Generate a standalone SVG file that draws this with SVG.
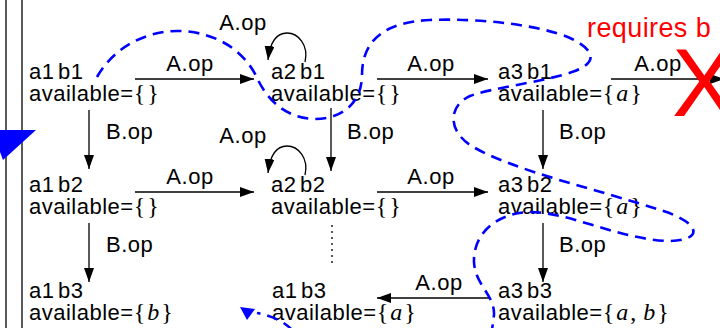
<svg xmlns="http://www.w3.org/2000/svg" width="720" height="328" viewBox="0 0 720 328">
<style>
.t{font-family:"Liberation Sans",Arial,sans-serif;font-size:22px;letter-spacing:0.5px;word-spacing:-3px;fill:#000}
.m{font-family:"Liberation Serif","Times New Roman",serif;font-size:24px;letter-spacing:2px}
.i{font-style:italic}
.e{stroke:#000;stroke-width:1.3;fill:none}
.dash{stroke:#0000ff;stroke-width:2.6;fill:none;stroke-dasharray:11,7}
</style>
<defs>
<marker id="ah" markerUnits="userSpaceOnUse" markerWidth="15" markerHeight="11" refX="14" refY="5" orient="auto">
<path d="M0,0 L14,5 L0,10 z" fill="#000"/>
</marker>
</defs>
<rect width="720" height="328" fill="#fff"/>
<line x1="6" y1="0" x2="6" y2="328" class="e"/>
<line x1="22" y1="0" x2="22" y2="328" class="e"/>

<g id="connectors">
<line x1="135" y1="79" x2="254" y2="79" class="e" marker-end="url(#ah)"/>
<text class="t" x="190" y="71" text-anchor="middle">A.op</text>
<line x1="377" y1="79" x2="488" y2="79" class="e" marker-end="url(#ah)"/>
<text class="t" x="431" y="71" text-anchor="middle">A.op</text>
<line x1="611" y1="79" x2="724" y2="79" class="e" marker-end="url(#ah)"/>
<text class="t" x="658" y="71" text-anchor="middle">A.op</text>
<path d="M305,62 C309,45 298,33 287,33 C276,33 270,42 268,60" class="e" marker-end="url(#ah)"/>
<text class="t" x="243" y="30" text-anchor="middle">A.op</text>
<line x1="89" y1="110" x2="89" y2="169" class="e" marker-end="url(#ah)"/>
<text class="t" x="106" y="139">B.op</text>
<line x1="331" y1="108" x2="331" y2="171" class="e" marker-end="url(#ah)"/>
<text class="t" x="347" y="139">B.op</text>
<line x1="543" y1="110" x2="543" y2="169" class="e" marker-end="url(#ah)"/>
<text class="t" x="559" y="139">B.op</text>
<line x1="135" y1="192" x2="254" y2="192" class="e" marker-end="url(#ah)"/>
<text class="t" x="190" y="184" text-anchor="middle">A.op</text>
<line x1="377" y1="192" x2="488" y2="192" class="e" marker-end="url(#ah)"/>
<text class="t" x="431" y="184" text-anchor="middle">A.op</text>
<path d="M305,175 C309,158 298,146 287,146 C276,146 270,155 268,173" class="e" marker-end="url(#ah)"/>
<text class="t" x="243" y="143" text-anchor="middle">A.op</text>
<line x1="89" y1="223" x2="89" y2="282" class="e" marker-end="url(#ah)"/>
<text class="t" x="106" y="252">B.op</text>
<line x1="332" y1="225" x2="332" y2="267" stroke="#000" stroke-width="1.3" stroke-dasharray="2,4"/>
<line x1="543" y1="223" x2="543" y2="282" class="e" marker-end="url(#ah)"/>
<text class="t" x="559" y="252">B.op</text>
<line x1="490" y1="298" x2="377" y2="298" class="e" marker-end="url(#ah)"/>
<text class="t" x="439" y="290" text-anchor="middle">A.op</text>
</g>

<g id="n_a1b1"><text class="t" x="29" y="79">a1 b1</text><text class="t" x="29" y="101">available=<tspan class="m">{}</tspan></text></g>
<g id="n_a2b1"><text class="t" x="271" y="79">a2 b1</text><text class="t" x="271" y="101">available=<tspan class="m">{}</tspan></text></g>
<g id="n_a3b1"><text class="t" x="498" y="79">a3 b1</text><text class="t" x="498" y="101">available=<tspan class="m">{<tspan class="i">a</tspan>}</tspan></text></g>
<g id="n_a1b2"><text class="t" x="29" y="192">a1 b2</text><text class="t" x="29" y="214">available=<tspan class="m">{}</tspan></text></g>
<g id="n_a2b2"><text class="t" x="271" y="192">a2 b2</text><text class="t" x="271" y="214">available=<tspan class="m">{}</tspan></text></g>
<g id="n_a3b2"><text class="t" x="498" y="192">a3 b2</text><text class="t" x="498" y="214">available=<tspan class="m">{<tspan class="i">a</tspan>}</tspan></text></g>
<g id="n_a1b3"><text class="t" x="29" y="298">a1 b3</text><text class="t" x="29" y="320">available=<tspan class="m">{<tspan class="i">b</tspan>}</tspan></text></g>
<g id="n_a1b3_2"><text class="t" x="272" y="298">a1 b3</text><text class="t" x="272" y="320">available=<tspan class="m">{<tspan class="i">a</tspan>}</tspan></text></g>
<g id="n_a3b3"><text class="t" x="498" y="298">a3 b3</text><text class="t" x="498" y="320">available=<tspan class="m">{<tspan class="i">a</tspan>, <tspan class="i">b</tspan>}</tspan></text></g>

<g id="blocked">
<text x="587" y="37" font-family="Liberation Sans,Arial,sans-serif" font-size="27" letter-spacing="0.4" fill="#ff0000">requires b</text>
<text x="672" y="116" font-family="Liberation Sans,Arial,sans-serif" font-size="96" fill="#ff0000">X</text>
</g>

<g id="trace">
<path class="dash" d="M97,77 C115,45 150,30 180,31 C215,32 245,50 258,80 C268,100 285,118 315,119 C345,119 362,100 362,75 C362,40 385,22 430,20 C480,18 540,25 570,38 C595,50 598,62 575,71 C545,82 490,88 470,96 C448,106 448,130 470,145 C510,170 600,190 660,210 C700,222 705,240 670,241 C620,240 570,212 530,212 C495,213 473,235 474,262 C475,285 495,295 494,315 L492,330"/>
<path class="dash" d="M292,330 C285,322 272,316 257,313"/>
<polygon points="240,307 255,309 247,320" fill="#0000ff"/>
<polygon points="0,130 36,130 3,160 0,152" fill="#0000ff"/>
</g>
</svg>
